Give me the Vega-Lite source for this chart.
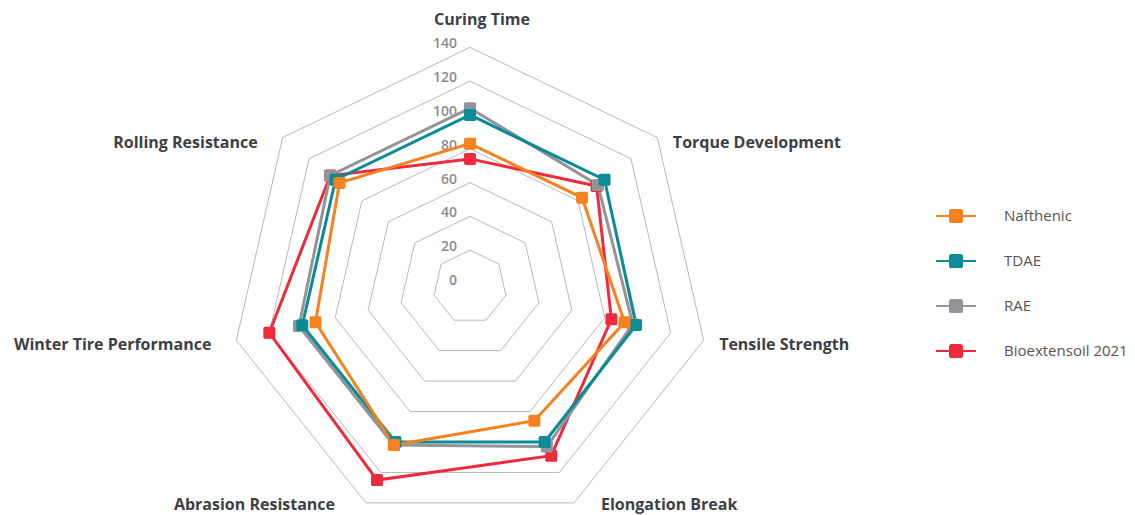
{
  "$schema": "https://vega.github.io/schema/vega-lite/v6.json",
  "width": 1135,
  "height": 515,
  "autosize": {"type": "none"},
  "padding": 0,
  "config": {"view": {"stroke": null}, "font": "Open Sans"},
  "datasets": {
    "axes": [
      {"cat": "Curing Time", "k": 0},
      {"cat": "Torque Development", "k": 1},
      {"cat": "Tensile Strength", "k": 2},
      {"cat": "Elongation Break", "k": 3},
      {"cat": "Abrasion Resistance", "k": 4},
      {"cat": "Winter Tire Performance", "k": 5},
      {"cat": "Rolling Resistance", "k": 6}
    ],
    "rings": [
      {"ring": 20, "k": [0, 1, 2, 3, 4, 5, 6]},
      {"ring": 40, "k": [0, 1, 2, 3, 4, 5, 6]},
      {"ring": 60, "k": [0, 1, 2, 3, 4, 5, 6]},
      {"ring": 80, "k": [0, 1, 2, 3, 4, 5, 6]},
      {"ring": 100, "k": [0, 1, 2, 3, 4, 5, 6]},
      {"ring": 120, "k": [0, 1, 2, 3, 4, 5, 6]},
      {"ring": 140, "k": [0, 1, 2, 3, 4, 5, 6]}
    ],
    "ticks": [
      {"tick": 0}, {"tick": 20}, {"tick": 40}, {"tick": 60},
      {"tick": 80}, {"tick": 100}, {"tick": 120}, {"tick": 140}
    ],
    "scores": [
      {"series": "Bioextensoil 2021", "cat": "Curing Time", "value": 74},
      {"series": "Bioextensoil 2021", "cat": "Torque Development", "value": 94},
      {"series": "Bioextensoil 2021", "cat": "Tensile Strength", "value": 84},
      {"series": "Bioextensoil 2021", "cat": "Elongation Break", "value": 109},
      {"series": "Bioextensoil 2021", "cat": "Abrasion Resistance", "value": 125},
      {"series": "Bioextensoil 2021", "cat": "Winter Tire Performance", "value": 120},
      {"series": "Bioextensoil 2021", "cat": "Rolling Resistance", "value": 104},
      {"series": "RAE", "cat": "Curing Time", "value": 104},
      {"series": "RAE", "cat": "Torque Development", "value": 95},
      {"series": "RAE", "cat": "Tensile Strength", "value": 97},
      {"series": "RAE", "cat": "Elongation Break", "value": 103},
      {"series": "RAE", "cat": "Abrasion Resistance", "value": 102},
      {"series": "RAE", "cat": "Winter Tire Performance", "value": 102},
      {"series": "RAE", "cat": "Rolling Resistance", "value": 104},
      {"series": "TDAE", "cat": "Curing Time", "value": 100},
      {"series": "TDAE", "cat": "Torque Development", "value": 100},
      {"series": "TDAE", "cat": "Tensile Strength", "value": 99},
      {"series": "TDAE", "cat": "Elongation Break", "value": 100},
      {"series": "TDAE", "cat": "Abrasion Resistance", "value": 100},
      {"series": "TDAE", "cat": "Winter Tire Performance", "value": 100},
      {"series": "TDAE", "cat": "Rolling Resistance", "value": 100},
      {"series": "Nafthenic", "cat": "Curing Time", "value": 83},
      {"series": "Nafthenic", "cat": "Torque Development", "value": 83},
      {"series": "Nafthenic", "cat": "Tensile Strength", "value": 92},
      {"series": "Nafthenic", "cat": "Elongation Break", "value": 86},
      {"series": "Nafthenic", "cat": "Abrasion Resistance", "value": 102},
      {"series": "Nafthenic", "cat": "Winter Tire Performance", "value": 92},
      {"series": "Nafthenic", "cat": "Rolling Resistance", "value": 97}
    ]
  },
  "layer": [
    {
      "data": {"name": "rings"},
      "transform": [
        {"flatten": ["k"]},
        {"calculate": "PI*(90-datum.k*360/7)/180", "as": "a"},
        {"calculate": "(datum.ring+1.8)*cos(datum.a)", "as": "px"},
        {"calculate": "(datum.ring+1.8)*sin(datum.a)", "as": "py"}
      ],
      "mark": {"type": "line", "interpolate": "linear-closed", "stroke": "#b8b8b8", "strokeWidth": 1},
      "encoding": {
        "x": {"field": "px", "type": "quantitative", "scale": {"domain": [-278.11, 393.49], "nice": false, "zero": false}, "axis": null},
        "y": {"field": "py", "type": "quantitative", "scale": {"domain": [-134.91, 169.82], "nice": false, "zero": false}, "axis": null},
        "detail": {"field": "ring"},
        "order": {"field": "k"}
      }
    },
    {
      "data": {"name": "ticks"},
      "transform": [
        {"calculate": "0", "as": "px"},
        {"calculate": "datum.tick+1.8", "as": "py"}
      ],
      "mark": {"type": "text", "align": "right", "baseline": "middle", "dx": -13, "dy": -3, "fontSize": 14, "fill": "#8c8c8c", "fontWeight": 600},
      "encoding": {
        "x": {"field": "px", "type": "quantitative"},
        "y": {"field": "py", "type": "quantitative"},
        "text": {"field": "tick", "type": "nominal"}
      }
    },
    {
      "data": {"name": "axes"},
      "transform": [
        {"filter": "datum.k == 0"},
        {"calculate": "PI*(90-datum.k*360/7)/180", "as": "a"},
        {"calculate": "141.8*cos(datum.a)", "as": "px"},
        {"calculate": "141.8*sin(datum.a)", "as": "py"}
      ],
      "mark": {"type": "text", "align": "center", "baseline": "middle", "dx": 12, "dy": -27, "fontSize": 16, "fontWeight": "bold", "fill": "#3c3f47"},
      "encoding": {
        "x": {"field": "px", "type": "quantitative"},
        "y": {"field": "py", "type": "quantitative"},
        "text": {"field": "cat", "type": "nominal"}
      }
    },
    {
      "data": {"name": "axes"},
      "transform": [
        {"filter": "datum.k == 1 || datum.k == 2"},
        {"calculate": "PI*(90-datum.k*360/7)/180", "as": "a"},
        {"calculate": "141.8*cos(datum.a)", "as": "px"},
        {"calculate": "141.8*sin(datum.a)", "as": "py"}
      ],
      "mark": {"type": "text", "align": "left", "baseline": "middle", "dx": 15.5, "dy": 5, "fontSize": 16, "fontWeight": "bold", "fill": "#3c3f47"},
      "encoding": {
        "x": {"field": "px", "type": "quantitative"},
        "y": {"field": "py", "type": "quantitative"},
        "text": {"field": "cat", "type": "nominal"}
      }
    },
    {
      "data": {"name": "axes"},
      "transform": [
        {"filter": "datum.k == 3"},
        {"calculate": "PI*(90-datum.k*360/7)/180", "as": "a"},
        {"calculate": "141.8*cos(datum.a)", "as": "px"},
        {"calculate": "141.8*sin(datum.a)", "as": "py"}
      ],
      "mark": {"type": "text", "align": "left", "baseline": "middle", "dx": 27, "dy": 2, "fontSize": 16, "fontWeight": "bold", "fill": "#3c3f47"},
      "encoding": {
        "x": {"field": "px", "type": "quantitative"},
        "y": {"field": "py", "type": "quantitative"},
        "text": {"field": "cat", "type": "nominal"}
      }
    },
    {
      "data": {"name": "axes"},
      "transform": [
        {"filter": "datum.k == 4"},
        {"calculate": "PI*(90-datum.k*360/7)/180", "as": "a"},
        {"calculate": "141.8*cos(datum.a)", "as": "px"},
        {"calculate": "141.8*sin(datum.a)", "as": "py"}
      ],
      "mark": {"type": "text", "align": "right", "baseline": "middle", "dx": -31, "dy": 2, "fontSize": 16, "fontWeight": "bold", "fill": "#3c3f47"},
      "encoding": {
        "x": {"field": "px", "type": "quantitative"},
        "y": {"field": "py", "type": "quantitative"},
        "text": {"field": "cat", "type": "nominal"}
      }
    },
    {
      "data": {"name": "axes"},
      "transform": [
        {"filter": "datum.k == 5 || datum.k == 6"},
        {"calculate": "PI*(90-datum.k*360/7)/180", "as": "a"},
        {"calculate": "141.8*cos(datum.a)", "as": "px"},
        {"calculate": "141.8*sin(datum.a)", "as": "py"}
      ],
      "mark": {"type": "text", "align": "right", "baseline": "middle", "dx": -25, "dy": 5, "fontSize": 16, "fontWeight": "bold", "fill": "#3c3f47"},
      "encoding": {
        "x": {"field": "px", "type": "quantitative"},
        "y": {"field": "py", "type": "quantitative"},
        "text": {"field": "cat", "type": "nominal"}
      }
    },
    {
      "data": {"name": "scores"},
      "transform": [
        {"lookup": "cat", "from": {"data": {"name": "axes"}, "key": "cat", "fields": ["k"]}},
        {"calculate": "PI*(90-datum.k*360/7)/180", "as": "a"},
        {"calculate": "(datum.value+1.8)*cos(datum.a)", "as": "px"},
        {"calculate": "(datum.value+1.8)*sin(datum.a)", "as": "py"}
      ],
      "encoding": {
        "x": {"field": "px", "type": "quantitative"},
        "y": {"field": "py", "type": "quantitative"},
        "order": {"field": "k"},
        "color": {
          "field": "series",
          "type": "nominal",
          "scale": {
            "domain": ["Nafthenic", "TDAE", "RAE", "Bioextensoil 2021"],
            "range": ["#f5821f", "#0b8b97", "#939497", "#ee2a3c"]
          },
          "legend": {
            "title": null,
            "orient": "none",
            "legendX": 935,
            "legendY": 195,
            "padding": 0,
            "symbolType": "M-1,0H1M-0.22,-0.3H0.22A0.08,0.08 0 0 1 0.3,-0.22V0.22A0.08,0.08 0 0 1 0.22,0.3H-0.22A0.08,0.08 0 0 1 -0.3,0.22V-0.22A0.08,0.08 0 0 1 -0.22,-0.3Z",
            "symbolSize": 1600,
            "symbolStrokeWidth": 2,
            "symbolOpacity": 1,
            "rowPadding": 14,
            "labelOffset": 27,
            "labelFontSize": 15,
            "labelColor": "#555555",
            "labelFont": "Open Sans",
            "encode": {
              "symbols": {
                "update": {
                  "fill": {"scale": "color", "field": "value"},
                  "stroke": {"scale": "color", "field": "value"},
                  "strokeWidth": {"value": 2}
                }
              }
            }
          }
        }
      },
      "layer": [
        {"mark": {"type": "line", "interpolate": "linear-closed", "strokeWidth": 3}},
        {
          "mark": {
            "type": "point",
            "filled": true,
            "opacity": 1,
            "size": 144,
            "shape": "M-0.7,-1H0.7A0.3,0.3 0 0 1 1,-0.7V0.7A0.3,0.3 0 0 1 0.7,1H-0.7A0.3,0.3 0 0 1 -1,0.7V-0.7A0.3,0.3 0 0 1 -0.7,-1Z"
          }
        }
      ]
    }
  ]
}
